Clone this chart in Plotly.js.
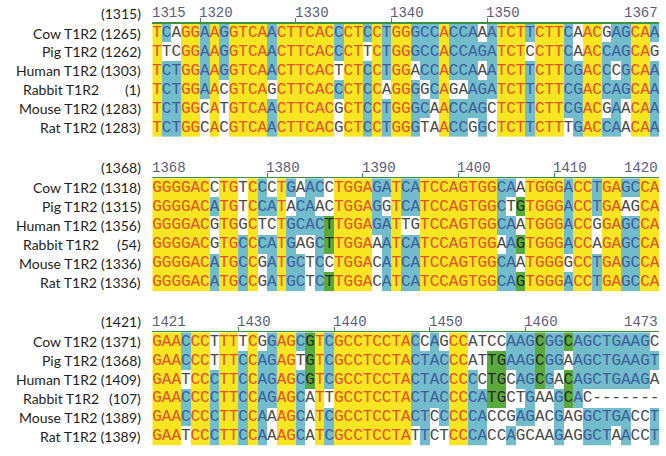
<!DOCTYPE html>
<html><head><meta charset="utf-8">
<script src="https://cdn.plot.ly/plotly-3.0.1.min.js"></script>
<style>html,body{margin:0;padding:0;background:#fff;} #chart{width:666px;height:456px;}</style>
</head><body><div id="chart"></div>
<script>
// ---------------- data ----------------
const species = ["Cow T1R2", "Pig T1R2", "Human T1R2", "Rabbit T1R2", "Mouse T1R2", "Rat T1R2"];

const block1Range = [1315, 1367];
const block1Ticks = [1320, 1330, 1340, 1350];
const block1Starts = [1265, 1262, 1303, 1, 1283, 1283];
const block1Seqs = [
  "TCAGGAAGGTCAACTTCACCCTCCTGGGCCACCAAATCTTCTTCAACGAGCAA",
  "TTCGGAAGGTCAACTTCACCCTTCTGGGCCACCAGATCTCCTTCAACCAGCAG",
  "TCTGGAAGGTCAACTTCACTCTCCTGGACCACCAAATCTTCTTCGACCCGCAA",
  "TCTGGAACGTCAGCTTCACCCTCCAGGGGCAGAAGATCTTCTTCGACCAGCAA",
  "TCTGGCATGTCAACTTCACGCTCCTGGGCAACCAGCTCTTCTTCGACGAACAA",
  "TCTGGCACGTCAACTTCACGCTCCTGGGTAACCGGCTCTTCTTTGACCAACAA"
];

const block2Range = [1368, 1420];
const block2Ticks = [1380, 1390, 1400, 1410];
const block2Starts = [1318, 1315, 1356, 54, 1336, 1336];
const block2Seqs = [
  "GGGGACCTGTCCCTGAACCTGGAGATCATCCAGTGGCAATGGGACCTGAGCCA",
  "GGGGACATGTCCATACAACTGGAGGTCATCCAGTGGCTGTGGGACCTGAAGCA",
  "GGGGACGTGGCTCTGCACTTGGAGATTGTCCAGTGGCAATGGGACCGGAGCCA",
  "GGGGACGTGCCCATGAGCTTGGAAATCATCCAGTGGAAGTGGGACCAGAGCCA",
  "GGGGACATGCCGATGCTCCTGGACATCATCCAGTGGCAATGGGGCCTGAGCCA",
  "GGGGACATGCCGATGCTCTTGGACATCATCCAGTGGCAGTGGGACCTGAGCCA"
];

const block3Range = [1421, 1473];
const block3Ticks = [1430, 1440, 1450, 1460];
const block3Starts = [1371, 1368, 1409, 107, 1389, 1389];
const block3Seqs = [
  "GAACCCTTTTCGGAGCGTCGCCTCCTACCAGCCATCCAAGCGGCAGCTGAAGC",
  "GAACCCTTTCCAGAGTGTCGCCTCCTACTACCCATTGAAGCGGAAGCTGAAGT",
  "GAATCCCTTCCAGAGCGTCGCCTCCTACTACCCCCTGCAGCGACAGCTGAAGA",
  "GAACCCCTTCCAGAGCATTGCCTCCTACTACCCCATGCTGAAGCAC-------",
  "GAACCCCTTCCAAAGCATCGCCTCCTACTCCCCCACCGAGACGAGGCTGACCT",
  "GAATCCCTTCCAAAGCATCGCCTCCTATTCTCCCACCAGCAAGAGGCTAACCT"
];

// ---------------- styling ----------------
const W = 666, H = 456;
const seqLeft = 152.3, seqRight = 659.3;
const blockTops = [23.6, 178.2, 332.3];
const blockHeight = 113.4;
const labelRight = 143;
const rabbitNameRight = 101;

const bgColors = ['#ffffff', '#f6e520', '#72bccb', '#59a93d'];
const txtColors = ['#4a4a4a', '#e4502a', '#3d5f9c', '#2b2b2b'];
const rulerColor = '#3f9142';
const numColor = '#5c5c7e';
const labelFont = {family: 'Lato, "Open Sans", sans-serif', size: 14, color: '#1e1e1e'};

function classify(letters) {
  const counts = {};
  letters.forEach(l => { if (l !== '-') counts[l] = (counts[l] || 0) + 1; });
  const bases = Object.keys(counts);
  if (bases.length === 1 && counts[bases[0]] === letters.length) return letters.map(() => 1);
  const max = Math.max(...bases.map(b => counts[b]));
  const top = bases.filter(b => counts[b] === max).sort();
  return letters.map(l => {
    if (l === '-') return 0;
    if (top.length === 1) return l === top[0] ? 2 : 0;
    if (max >= 2 && l === top[top.length - 1]) return 3;
    return 0;
  });
}

const blocks = [
  {range: block1Range, ticks: block1Ticks, starts: block1Starts, seqs: block1Seqs},
  {range: block2Range, ticks: block2Ticks, starts: block2Starts, seqs: block2Seqs},
  {range: block3Range, ticks: block3Ticks, starts: block3Starts, seqs: block3Seqs}
];

const traces = [];
const annotations = [];
const layout = {
  width: W, height: H,
  margin: {l: 0, r: 0, t: 0, b: 0},
  paper_bgcolor: '#ffffff', plot_bgcolor: '#ffffff',
  showlegend: false, hovermode: false,
  annotations: annotations
};

const py = p => 1 - p / H;
const colorscale = [[0, bgColors[0]], [0.1667, bgColors[0]], [0.1667, bgColors[1]], [0.5, bgColors[1]],
                    [0.5, bgColors[2]], [0.8333, bgColors[2]], [0.8333, bgColors[3]], [1, bgColors[3]]];

blocks.forEach((b, bi) => {
  const sfx = bi === 0 ? '' : String(bi + 1);
  const xa = 'x' + sfx, ya = 'y' + sfx;
  const nCols = b.range[1] - b.range[0] + 1;
  const positions = [];
  for (let i = 0; i < nCols; i++) positions.push(b.range[0] + i);
  const rows = b.seqs.map((s, i) => i);
  const z = b.seqs.map(() => new Array(nCols).fill(0));
  const tx = [], ty = [], tt = [], tc = [];
  for (let c = 0; c < nCols; c++) {
    const letters = b.seqs.map(s => s[c]);
    const cls = classify(letters);
    cls.forEach((k, r) => {
      z[r][c] = k;
      tx.push(positions[c]); ty.push(r); tt.push(letters[r]); tc.push(txtColors[k]);
    });
  }
  traces.push({
    type: 'heatmap', x: positions, y: rows, z: z, xaxis: xa, yaxis: ya,
    colorscale: colorscale, zmin: 0, zmax: 3, showscale: false, hoverinfo: 'skip', xgap: 0, ygap: 0
  });
  traces.push({
    type: 'scatter', mode: 'text', x: tx, y: ty, text: tt, xaxis: xa, yaxis: ya,
    textposition: 'middle center', cliponaxis: false, hoverinfo: 'skip',
    textfont: {family: '"Liberation Mono", "DejaVu Sans Mono", monospace', size: 16, color: tc}
  });
  const top = blockTops[bi], bottom = top + blockHeight;
  layout['xaxis' + sfx] = {
    domain: [seqLeft / W, seqRight / W], range: [b.range[0] - 0.5, b.range[1] + 0.5],
    anchor: ya, side: 'top', showline: true, linecolor: rulerColor, linewidth: 1.5,
    ticks: 'outside', ticklen: 4, tickwidth: 1, tickcolor: rulerColor,
    tickmode: 'array', tickvals: b.ticks.map(t => t - 0.5), showticklabels: false,
    showgrid: false, zeroline: false, fixedrange: true
  };
  layout['yaxis' + sfx] = {
    domain: [py(bottom), py(top)], range: [b.seqs.length - 0.5, -0.5], anchor: xa,
    showline: false, showticklabels: false, ticks: '', showgrid: false, zeroline: false, fixedrange: true
  };
  const headerY = py(top - 10.6);
  const numFont = {family: '"Liberation Mono", "DejaVu Sans Mono", monospace', size: 14, color: numColor};
  annotations.push({xref: 'paper', yref: 'paper', x: labelRight / W, y: headerY, xanchor: 'right', yanchor: 'middle',
    text: '(' + b.range[0] + ')', showarrow: false, font: labelFont});
  annotations.push({xref: xa, yref: 'paper', x: b.range[0] - 0.5, y: headerY, xanchor: 'left', yanchor: 'middle',
    text: String(b.range[0]), showarrow: false, font: numFont, xshift: -2});
  b.ticks.forEach(t => annotations.push({xref: xa, yref: 'paper', x: t - 0.5, y: headerY, xanchor: 'left', yanchor: 'middle',
    text: String(t), showarrow: false, font: numFont, xshift: -3}));
  annotations.push({xref: xa, yref: 'paper', x: b.range[1] + 0.5, y: headerY, xanchor: 'right', yanchor: 'middle',
    text: String(b.range[1]), showarrow: false, font: numFont, xshift: 1});
  species.forEach((sp, r) => {
    if (sp.indexOf('Rabbit') === 0) {
      annotations.push({xref: 'paper', yref: ya, x: rabbitNameRight / W, y: r, xanchor: 'right', yanchor: 'middle',
        text: sp, showarrow: false, font: labelFont});
      annotations.push({xref: 'paper', yref: ya, x: labelRight / W, y: r, xanchor: 'right', yanchor: 'middle',
        text: '(' + b.starts[r] + ')', showarrow: false, font: labelFont});
    } else {
      annotations.push({xref: 'paper', yref: ya, x: labelRight / W, y: r, xanchor: 'right', yanchor: 'middle',
        text: sp + ' (' + b.starts[r] + ')', showarrow: false, font: labelFont});
    }
  });
});

Plotly.newPlot('chart', traces, layout, {staticPlot: true, displayModeBar: false});
</script>
</body></html>
